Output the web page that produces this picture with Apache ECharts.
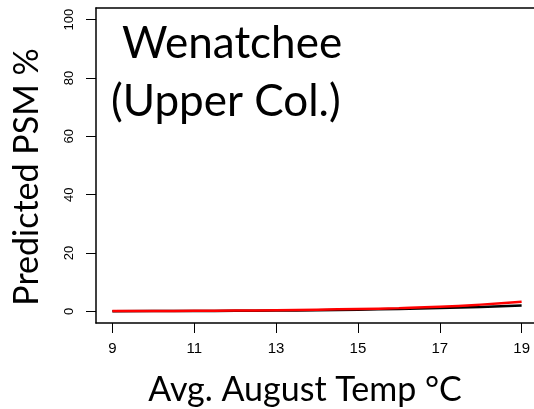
<!DOCTYPE html>
<html>
<head>
<meta charset="utf-8">
<script src="https://cdn.jsdelivr.net/npm/echarts@6/dist/echarts.min.js"></script>
<style>
  html, body { margin: 0; padding: 0; background: #fff; }
  #chart { width: 534px; height: 409px; }
</style>
</head>
<body>
<div id="chart"></div>
<script>
// Average August stream temperature (°C)
const temps = [9, 10, 11, 12, 13, 14, 15, 16, 17, 18, 19];
// Predicted pre-spawn mortality (%) for the two model curves
const psmBlack = [0.05, 0.08, 0.12, 0.18, 0.27, 0.4, 0.58, 0.82, 1.1, 1.5, 2.0];
const psmRed   = [0.08, 0.12, 0.18, 0.27, 0.4, 0.58, 0.8, 1.1, 1.55, 2.3, 3.3];
// Axis tick positions
const xTicks = [9, 11, 13, 15, 17, 19];
const yTicks = [0, 20, 40, 60, 80, 100];

const pairs = (xs, ys) => xs.map((x, i) => [x, ys[i]]);
// each axis gets its own copy of the frame line style
const frameLine = () => ({ show: true, onZero: false, lineStyle: { color: '#000', width: 1.5 } });

const chart = echarts.init(document.getElementById('chart'), null, { renderer: 'canvas' });
chart.setOption({
  animation: false,
  backgroundColor: '#ffffff',
  grid: {
    left: 96, top: 8, bottom: 86, width: 442,
    outerBoundsMode: 'none', containLabel: false, show: false
  },
  xAxis: [
    {
      type: 'value', min: 8.6, max: 19.4, position: 'bottom',
      splitLine: { show: false },
      axisLine: frameLine(),
      axisTick: { show: true, customValues: xTicks, length: 10, lineStyle: { color: '#000', width: 1 } },
      axisLabel: { customValues: xTicks, margin: 18, fontFamily: 'Liberation Sans', fontSize: 15, color: '#000' }
    },
    {
      // top edge of the plot frame
      type: 'value', min: 8.6, max: 19.4, position: 'top',
      splitLine: { show: false }, axisLine: frameLine(),
      axisTick: { show: false }, axisLabel: { show: false }
    }
  ],
  yAxis: {
    type: 'value', min: -4, max: 104,
    splitLine: { show: false },
    axisLine: frameLine(),
    axisTick: { show: true, customValues: yTicks, length: 10, lineStyle: { color: '#000', width: 1 } },
    axisLabel: { customValues: yTicks, rotate: 90, margin: 20, fontFamily: 'Liberation Sans', fontSize: 13, color: '#000' }
  },
  series: [
    {
      type: 'line', data: pairs(temps, psmBlack), smooth: true, showSymbol: false,
      lineStyle: { color: '#000', width: 2.5 }, z: 2
    },
    {
      type: 'line', data: pairs(temps, psmRed), smooth: true, showSymbol: false,
      lineStyle: { color: '#ff0000', width: 2.5 }, z: 3
    }
  ],
  graphic: [
    {
      type: 'text', left: 122, top: 22, z: 10,
      style: { text: 'Wenatchee', font: '44px Lato', fill: '#000' }
    },
    {
      type: 'text', left: 111, top: 80, z: 10,
      style: { text: '(Upper Col.)', font: '44px Lato', fill: '#000' }
    },
    {
      type: 'text', x: 305, y: 390, z: 10,
      style: { text: 'Avg. August Temp °C', font: '34px Lato', fill: '#000', align: 'center', verticalAlign: 'middle' }
    },
    {
      type: 'text', x: 27, y: 177, rotation: Math.PI / 2, z: 10,
      style: { text: 'Predicted PSM %', font: '34px Lato', fill: '#000', align: 'center', verticalAlign: 'middle' }
    }
  ]
});
</script>
</body>
</html>
